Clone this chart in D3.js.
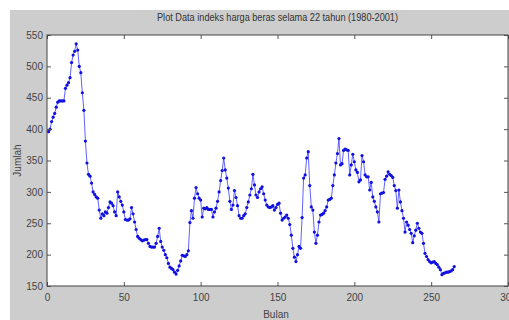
<!DOCTYPE html>
<html><head><meta charset="utf-8">
<script src="https://cdn.jsdelivr.net/npm/d3@7"></script>
<style>html,body{margin:0;padding:0;background:#fff;}svg{display:block;}</style>
</head><body>
<svg id="chart" width="509" height="320"></svg>
<script>
const title = "Plot Data indeks harga beras selama 22 tahun (1980-2001)";
const xLabel = "Bulan";
const yLabel = "Jumlah";
const xTicks = [0, 50, 100, 150, 200, 250, 300];
const yTicks = [150, 200, 250, 300, 350, 400, 450, 500, 550];
const xDomain = [0, 300];
const yDomain = [150, 550];
// monthly rice price index, month 1..265
const values = [
396,400,412,419,425,435,443,445,445,445,445,465,470,474,482,506,518,524,536,526,
500,490,458,430,381,346,328,325,314,300,296,292,290,271,258,265,262,268,266,275,
284,282,278,268,262,300,292,285,279,268,256,255,255,257,275,265,252,240,229,226,
224,222,223,224,224,218,213,212,212,212,218,229,242,221,212,207,200,195,186,180,
178,176,172,169,175,182,190,199,198,197,200,206,251,270,258,290,307,297,290,287,
260,274,273,275,272,272,272,260,268,274,285,300,318,334,354,335,322,306,285,272,
279,302,291,278,262,258,258,262,265,275,284,295,305,328,311,295,291,300,305,308,
297,287,279,276,275,276,278,271,275,280,282,266,255,258,260,263,258,248,231,210,
196,189,200,213,210,259,322,327,354,364,310,276,271,236,218,231,252,263,264,266,
270,276,287,288,290,310,327,346,361,385,343,345,366,368,367,366,327,343,360,348,
335,331,316,319,358,348,327,324,324,303,315,292,285,276,268,252,297,298,299,320,
325,332,328,326,323,310,302,274,303,284,270,258,236,252,247,240,234,219,230,239,
250,242,236,234,218,202,197,192,189,187,188,189,186,184,180,176,168,170,171,172,
172,173,174,176,181
];
const months = values.map((v, i) => i + 1);
const data = months.map((m, i) => ({m, v: values[i]}));

const svg = d3.select("#chart");
const W = 509, H = 320;
const m = {left: 47, right: 1, top: 35, bottom: 34};
const pw = W - m.left - m.right, ph = H - m.top - m.bottom;
const font = "'Liberation Sans', Arial, sans-serif";

svg.append("rect").attr("x", 10).attr("y", 10).attr("width", W - 10).attr("height", H - 10).attr("fill", "#cdcdcd");

const x = d3.scaleLinear().domain(xDomain).range([m.left, m.left + pw]);
const y = d3.scaleLinear().domain(yDomain).range([m.top + ph, m.top]);

svg.append("rect").attr("x", m.left).attr("y", m.top).attr("width", pw).attr("height", ph).attr("fill", "#fff");

const g = svg.append("g");
g.append("path").datum(data)
  .attr("fill", "none").attr("stroke", "#3a3aff").attr("stroke-width", 0.8)
  .attr("d", d3.line().x(d => x(d.m)).y(d => y(d.v)));
g.selectAll("circle").data(data).join("circle")
  .attr("cx", d => x(d.m)).attr("cy", d => y(d.v)).attr("r", 1.6).attr("fill", "#1010e0");

const tickLen = 4;
function styleAxis(sel) {
  sel.selectAll(".domain").remove();
  sel.selectAll(".tick line").attr("stroke", "#555");
  sel.selectAll(".tick text").attr("fill", "#444").style("font-family", font).style("font-size", "10px");
}
// bottom
svg.append("g").attr("transform", `translate(0,${m.top + ph})`)
  .call(d3.axisBottom(x).tickValues(xTicks).tickSize(-tickLen).tickPadding(8).tickFormat(d3.format("d")))
  .call(styleAxis);
// top ticks
svg.append("g").attr("transform", `translate(0,${m.top})`)
  .call(d3.axisTop(x).tickValues(xTicks).tickSize(-tickLen).tickFormat(""))
  .call(styleAxis);
// left
svg.append("g").attr("transform", `translate(${m.left},0)`)
  .call(d3.axisLeft(y).tickValues(yTicks).tickSize(-tickLen).tickPadding(4).tickFormat(d3.format("d")))
  .call(styleAxis);
// right ticks
svg.append("g").attr("transform", `translate(${m.left + pw},0)`)
  .call(d3.axisRight(y).tickValues(yTicks).tickSize(-tickLen).tickFormat(""))
  .call(styleAxis);

svg.append("rect").attr("x", m.left).attr("y", m.top).attr("width", pw).attr("height", ph)
  .attr("fill", "none").attr("stroke", "#444").attr("stroke-width", 1);

svg.append("text").attr("x", m.left + pw / 2).attr("y", 21).attr("text-anchor", "middle")
  .attr("fill", "#333").style("font-family", font).style("font-size", "10px")
  .attr("textLength", 241).attr("lengthAdjust", "spacingAndGlyphs").text(title);
svg.append("text").attr("x", 276).attr("y", 318).attr("text-anchor", "middle")
  .attr("fill", "#444").style("font-family", font).style("font-size", "10px").text(xLabel);
svg.append("text").attr("transform", `translate(21,${m.top + ph / 2}) rotate(-90)`).attr("text-anchor", "middle")
  .attr("fill", "#444").style("font-family", font).style("font-size", "10px").text(yLabel);
</script>
</body></html>
